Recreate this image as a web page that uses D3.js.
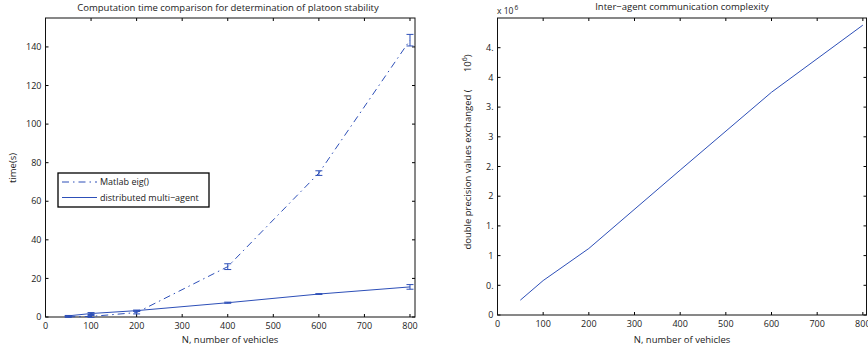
<!DOCTYPE html>
<html><head><meta charset="utf-8">
<script src="https://cdn.jsdelivr.net/npm/d3@7"></script>
<style>body{margin:0;background:#fff}svg{display:block;font-family:"Open Sans","DejaVu Sans",sans-serif}</style>
</head><body><svg id="c" width="868" height="348"></svg>
<script>
// ---- data ----
const vehiclesN = [50, 100, 200, 400, 600, 800];
const matlabTime = [0.1, 0.3, 2.3, 26.1, 74.6, 143.5];
const matlabErr = [0.3, 0.5, 0.7, 1.5, 1.2, 3.0];
const distTime = [0.6, 1.8, 3.3, 7.4, 11.9, 15.6];
const distErr = [0.2, 0.5, 0.3, 0.3, 0.2, 1.2];
const commN = [50, 100, 200, 400, 600, 800];
const commValues = [0.25, 0.58, 1.12, 2.44, 3.75, 4.88]; // x 10^6
const xTicks = [0, 100, 200, 300, 400, 500, 600, 700, 800];
const leftYTicks = [0, 20, 40, 60, 80, 100, 120, 140];
const rightYTicks = [0, 0.5, 1, 1.5, 2, 2.5, 3, 3.5, 4, 4.5];
const rightYTickLabels = ["0", "0.", "1", "1.", "2", "2.", "3", "3.", "4", "4."];
const legendLabels = ["Matlab eig()", "distributed multi\u2212agent"];

const svg = d3.select("#c");
const blue = "#2d4fb8";
const txt = "#222";
const dash = "7,4,1.5,4";

function panel(g, x, y, yTicks, yFmt) {
  const [x0, x1] = x.range(), [y0, y1] = y.range();
  g.append("g").selectAll("line").data(xTicks).join("line")
    .attr("x1", d => x(d)).attr("x2", d => x(d)).attr("y1", y0).attr("y2", y0 - 3)
    .attr("stroke", "#000");
  g.append("g").selectAll("line").data(xTicks).join("line")
    .attr("x1", d => x(d)).attr("x2", d => x(d)).attr("y1", y1).attr("y2", y1 + 3)
    .attr("stroke", "#000");
  g.append("g").selectAll("line").data(yTicks).join("line")
    .attr("x1", x0).attr("x2", x0 + 3).attr("y1", d => y(d)).attr("y2", d => y(d))
    .attr("stroke", "#000");
  g.append("g").selectAll("line").data(yTicks).join("line")
    .attr("x1", x1).attr("x2", x1 - 3).attr("y1", d => y(d)).attr("y2", d => y(d))
    .attr("stroke", "#000");
  g.append("rect").attr("x", x0).attr("y", y1).attr("width", x1 - x0).attr("height", y0 - y1)
    .attr("fill", "none").attr("stroke", "#111").attr("stroke-width", 1);
  g.append("g").selectAll("text").data(xTicks).join("text")
    .attr("x", d => x(d)).attr("y", y0 + 12).attr("text-anchor", "middle")
    .attr("font-size", 9).attr("fill", txt).text(d => d);
  g.append("g").selectAll("text").data(yTicks).join("text")
    .attr("x", x0 - 4).attr("y", d => y(d) + 3.2).attr("text-anchor", "end")
    .attr("font-size", 9).attr("fill", txt).text((d, i) => yFmt(d, i));
}

// ---- left panel ----
const xL = d3.scaleLinear().domain([0, 811]).range([45.5, 415]);
const yL = d3.scaleLinear().domain([0, 155]).range([317, 18]);
const gL = svg.append("g");
panel(gL, xL, yL, leftYTicks, d => d);
const lineL = d3.line().x(d => xL(d[0])).y(d => yL(d[1]));
gL.append("path").datum(vehiclesN.map((n, i) => [n, matlabTime[i]]))
  .attr("d", lineL).attr("fill", "none").attr("stroke", blue).attr("stroke-width", 1)
  .attr("stroke-dasharray", dash);
gL.append("path").datum(vehiclesN.map((n, i) => [n, distTime[i]]))
  .attr("d", lineL).attr("fill", "none").attr("stroke", blue).attr("stroke-width", 1);
function errbars(vals, errs) {
  const g = gL.append("g").attr("stroke", blue).attr("stroke-width", 1);
  vehiclesN.forEach((n, i) => {
    const cx = xL(n), ya = yL(vals[i] - errs[i]), yb = yL(vals[i] + errs[i]);
    g.append("line").attr("x1", cx).attr("x2", cx).attr("y1", ya).attr("y2", yb);
    g.append("line").attr("x1", cx - 3.5).attr("x2", cx + 3.5).attr("y1", ya).attr("y2", ya);
    g.append("line").attr("x1", cx - 3.5).attr("x2", cx + 3.5).attr("y1", yb).attr("y2", yb);
  });
}
errbars(matlabTime, matlabErr);
errbars(distTime, distErr);
gL.append("text").attr("x", 228).attr("y", 11).attr("text-anchor", "middle")
  .attr("font-size", 9.5).attr("fill", txt).text("Computation time comparison for determination of platoon stability");
gL.append("text").attr("x", 230).attr("y", 343).attr("text-anchor", "middle")
  .attr("font-size", 9.5).attr("fill", txt).text("N, number of vehicles");
gL.append("text").attr("transform", "translate(16,168) rotate(-90)").attr("text-anchor", "middle")
  .attr("font-size", 9.5).attr("fill", txt).text("time(s)");
// legend
const lg = gL.append("g");
lg.append("rect").attr("x", 58).attr("y", 173).attr("width", 151).attr("height", 34)
  .attr("fill", "#fff").attr("stroke", "#000").attr("stroke-width", 1.3);
legendLabels.forEach((t, i) => {
  const yy = 182 + i * 15.5;
  lg.append("line").attr("x1", 62).attr("x2", 97).attr("y1", yy).attr("y2", yy)
    .attr("stroke", blue).attr("stroke-width", 1)
    .attr("stroke-dasharray", i === 0 ? dash : null);
  lg.append("text").attr("x", 100).attr("y", yy + 3.2).attr("font-size", 9).attr("fill", txt).text(t);
});

// ---- right panel ----
const xR = d3.scaleLinear().domain([0, 808]).range([497.5, 866.5]);
const yR = d3.scaleLinear().domain([0, 5]).range([315, 18]);
const gR = svg.append("g");
panel(gR, xR, yR, rightYTicks, (d, i) => rightYTickLabels[i]);
gR.append("path").datum(commN.map((n, i) => [n, commValues[i]]))
  .attr("d", d3.line().x(d => xR(d[0])).y(d => yR(d[1])))
  .attr("fill", "none").attr("stroke", blue).attr("stroke-width", 1);
gR.append("text").attr("x", 682).attr("y", 10).attr("text-anchor", "middle")
  .attr("font-size", 9.5).attr("fill", txt).text("Inter\u2212agent communication complexity");
gR.append("text").attr("x", 682).attr("y", 343).attr("text-anchor", "middle")
  .attr("font-size", 9.5).attr("fill", txt).text("N, number of vehicles");
const mul = gR.append("text").attr("x", 497).attr("y", 14).attr("font-size", 8.5).attr("fill", txt);
mul.append("tspan").text("x 10");
mul.append("tspan").attr("dy", -4).attr("dx", 1).attr("font-size", 6.5).text("6");
const yl = gR.append("text").attr("transform", "translate(471,152) rotate(-90)")
  .attr("text-anchor", "middle").attr("font-size", 9.5).attr("fill", txt)
  .style("white-space", "pre");
yl.append("tspan").text("double precision values exchanged (       10");
yl.append("tspan").attr("dy", -4).attr("font-size", 7).text("6");
yl.append("tspan").attr("dy", 4).text(")");
</script></body></html>
